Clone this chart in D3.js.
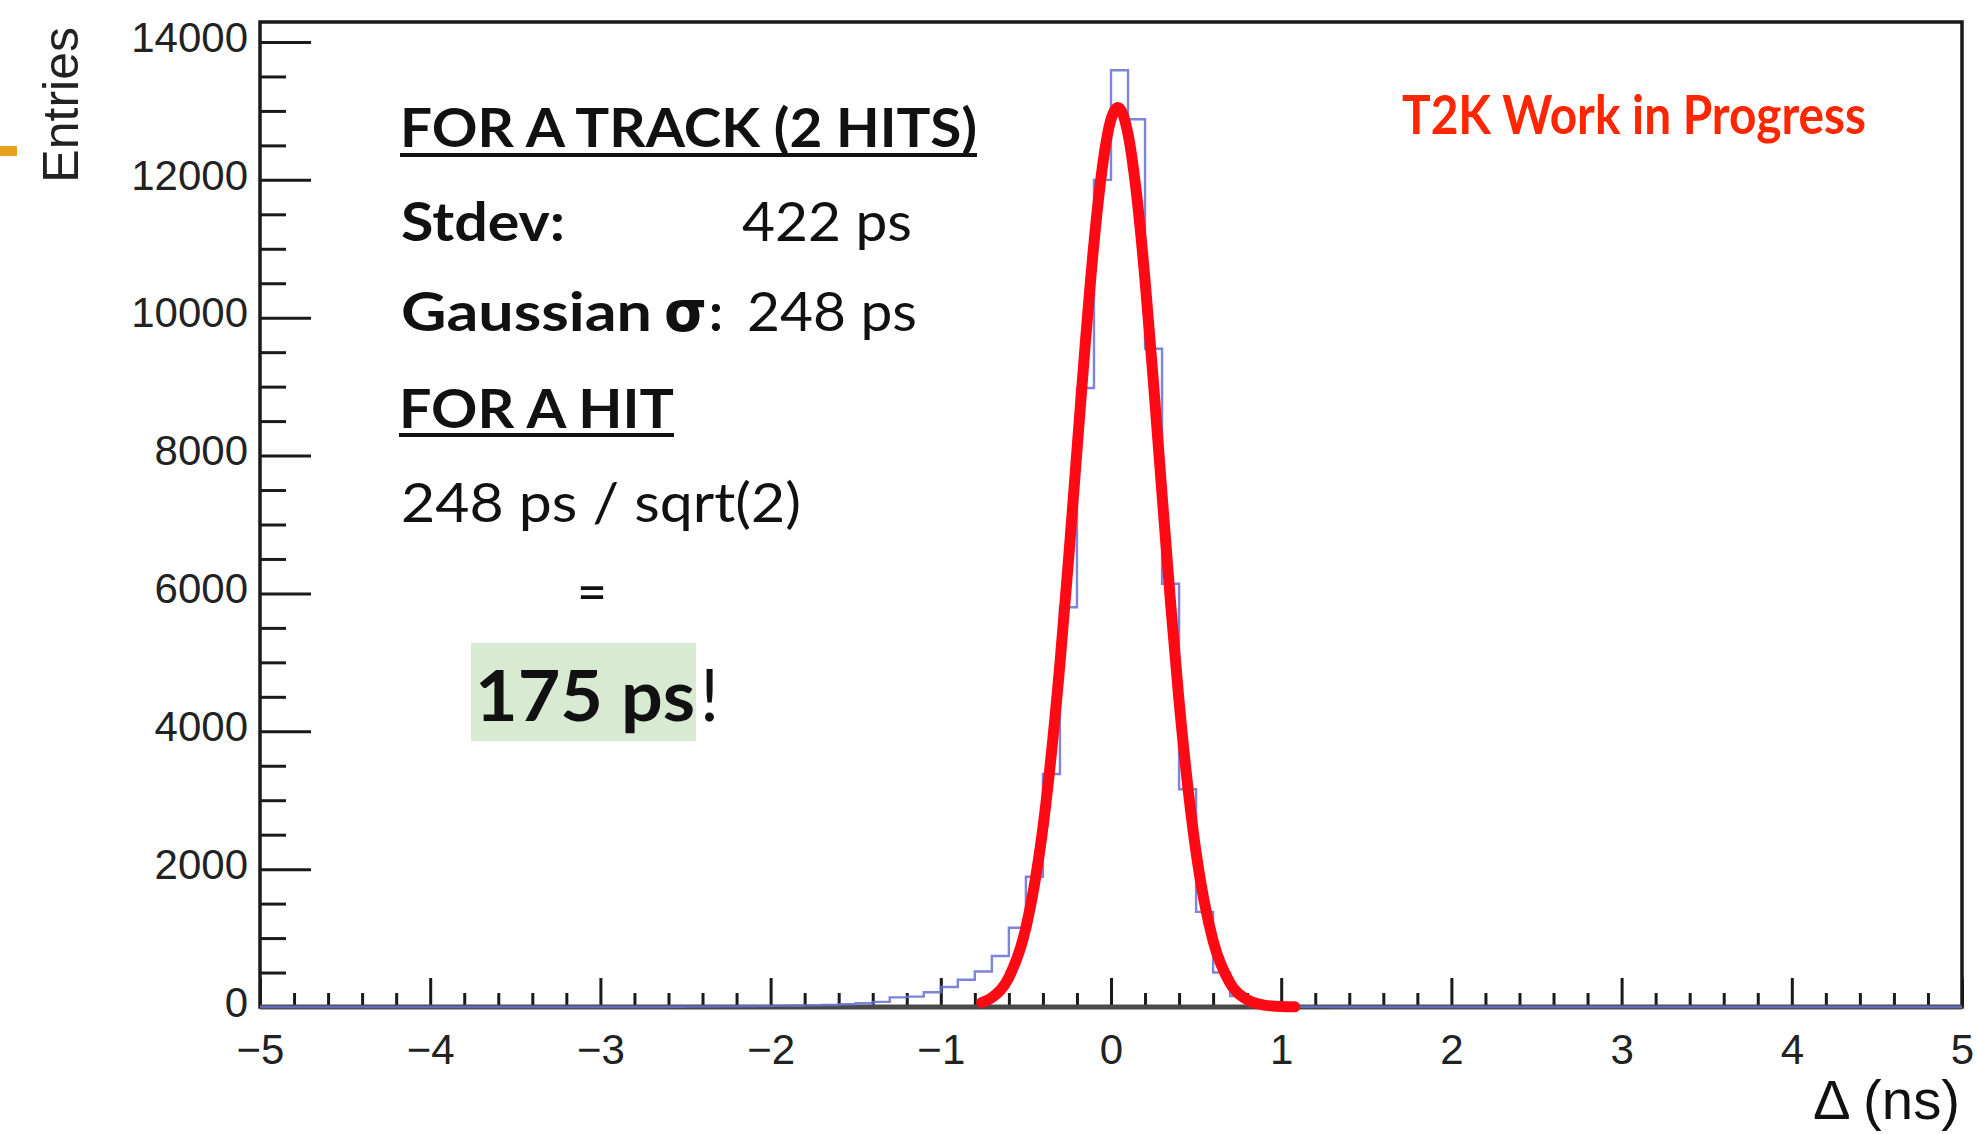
<!DOCTYPE html>
<html>
<head>
<meta charset="utf-8">
<script src="https://cdn.jsdelivr.net/npm/d3@7"></script>
<style>
  html, body { margin: 0; padding: 0; background: #fff; }
  svg { display: block; }
</style>
</head>
<body>
<div class="chart"></div>
<script>
// time difference between the two hits, 0.1 ns bins
const binWidth = 0.1;
const firstBin = -2.6;
const binCounts = [
  3, 5, 7, 9, 11, 13, 16, 19, 23, 28,
  40, 55, 75, 140, 150, 215, 290, 395, 515, 740,
  1150, 1890, 3380, 5800, 8980, 12000,
  13590, 12880, 9550, 6140, 3160, 1380, 500, 160, 50, 15, 6, 3, 2, 1
];

// red gaussian fit
const fitX = [-0.76, -0.7, -0.6, -0.5, -0.4, -0.3, -0.25, -0.2, -0.15, -0.1, -0.05, 0, 0.04,
  0.1, 0.15, 0.2, 0.25, 0.3, 0.35, 0.4, 0.5, 0.6, 0.7, 0.8, 0.9, 1.0, 1.08];
const fitY = [63, 137, 431, 1150, 2601, 4981, 6475, 8075, 9657, 11086, 12198, 12878, 13050,
  12665, 11797, 10545, 9040, 7432, 5861, 4434, 2238, 958, 346, 106, 28, 6, 2];

const xTicks = [-5, -4, -3, -2, -1, 0, 1, 2, 3, 4, 5];
const yTicks = [0, 2000, 4000, 6000, 8000, 10000, 12000, 14000];
const xDomain = [-5, 5];
const yDomain = [0, 14290];

const W = 1977, H = 1134;
const frame = { left: 260, right: 1962, top: 22, bottom: 1007 };

const svg = d3.select(".chart")
  .append("svg")
  .attr("width", W)
  .attr("height", H)
  .attr("viewBox", [0, 0, W, H]);

const x = d3.scaleLinear().domain(xDomain).range([frame.left, frame.right]);
const y = d3.scaleLinear().domain(yDomain).range([frame.bottom, frame.top]);

const axisFont = "'Liberation Sans', Arial, Helvetica, sans-serif";
const noteFont = "Lato, 'Open Sans', sans-serif";
const ink = "#1a1a1a";

// small orange mark on the left border (slide decoration)
svg.append("rect").attr("x", 0).attr("y", 146).attr("width", 17).attr("height", 10).attr("fill", "#e9a21f");

// minor ticks
const yMinor = d3.range(500, yDomain[1], 500).filter((v) => v % 2000 !== 0);
const xMinor = d3.range(-50, 51, 2).map((v) => v / 10).filter((v) => !Number.isInteger(v));

function styleAxis(g) {
  g.select(".domain").remove();
  g.selectAll("line").attr("stroke", ink).attr("stroke-width", 3);
  g.attr("font-family", axisFont).attr("font-size", 42);
  g.selectAll("text").attr("fill", "#222");
}

svg.append("g")
  .attr("transform", `translate(${frame.left},0)`)
  .call(d3.axisLeft(y).tickValues(yMinor).tickSize(-26).tickFormat(""))
  .call(styleAxis);

svg.append("g")
  .attr("transform", `translate(${frame.left},0)`)
  .call(d3.axisLeft(y).tickValues(yTicks).tickSize(-51).tickPadding(12).tickFormat(d3.format("d")))
  .call(styleAxis)
  .call((g) => g.selectAll("text").attr("dy", "0.22em"));

svg.append("g")
  .attr("transform", `translate(0,${frame.bottom})`)
  .call(d3.axisBottom(x).tickValues(xMinor).tickSize(-14).tickFormat(""))
  .call(styleAxis);

svg.append("g")
  .attr("transform", `translate(0,${frame.bottom})`)
  .call(d3.axisBottom(x).tickValues(xTicks).tickSize(-29).tickPadding(27).tickFormat(d3.format("d")))
  .call(styleAxis);

// frame
svg.append("rect")
  .attr("x", frame.left).attr("y", frame.top)
  .attr("width", frame.right - frame.left).attr("height", frame.bottom - frame.top)
  .attr("fill", "none").attr("stroke", ink).attr("stroke-width", 3.5);
svg.append("line")
  .attr("x1", frame.left).attr("x2", frame.right)
  .attr("y1", frame.bottom).attr("y2", frame.bottom)
  .attr("stroke", "#4a4a4a").attr("stroke-width", 5);

// axis titles
svg.append("text")
  .attr("transform", "translate(78,27) rotate(-90)")
  .attr("text-anchor", "end")
  .attr("font-family", axisFont).attr("font-size", 50).attr("fill", "#222")
  .text("Entries");

svg.append("text")
  .attr("x", 1960).attr("y", 1119)
  .attr("text-anchor", "end")
  .attr("font-family", axisFont).attr("font-size", 56).attr("fill", "#111")
  .attr("textLength", 147).attr("lengthAdjust", "spacingAndGlyphs")
  .text("Δ (ns)");

// histogram outline
const bins = binCounts.map((n, i) => {
  const x0 = +(firstBin + i * binWidth).toFixed(2);
  return { x0, x1: +(x0 + binWidth).toFixed(2), n };
});
const histPts = [[xDomain[0], 0], [bins[0].x0, 0]];
bins.forEach((b) => { histPts.push([b.x0, b.n], [b.x1, b.n]); });
histPts.push([bins[bins.length - 1].x1, 0], [xDomain[1], 0]);

svg.append("path")
  .datum(histPts)
  .attr("fill", "none")
  .attr("stroke", "#6570d2")
  .attr("stroke-width", 2.4)
  .attr("stroke-opacity", 0.85)
  .attr("d", d3.line().x((d) => x(d[0])).y((d) => y(d[1])));

// fit curve
svg.append("path")
  .datum(fitX.map((v, i) => [v, fitY[i]]))
  .attr("fill", "none")
  .attr("stroke", "#ff0a14")
  .attr("stroke-width", 11)
  .attr("stroke-linecap", "round")
  .attr("stroke-linejoin", "round")
  .attr("d", d3.line().x((d) => x(d[0])).y((d) => y(d[1])).curve(d3.curveMonotoneX));

// annotation box
function note(str, x0, base, size, weight, len, opts = {}) {
  const t = svg.append("text")
    .attr("x", x0).attr("y", base)
    .attr("font-family", opts.font || noteFont)
    .attr("font-size", size)
    .attr("font-weight", weight)
    .attr("fill", opts.color || "#111")
    .text(str);
  if (len) t.attr("textLength", len).attr("lengthAdjust", "spacingAndGlyphs");
  return t;
}
function underline(x0, yy, w) {
  svg.append("rect").attr("x", x0).attr("y", yy).attr("width", w).attr("height", 4).attr("fill", "#111");
}

note("FOR A TRACK (2 HITS)", 400, 147, 54, 700, 577);
underline(400, 153, 577);
note("Stdev:", 401, 241, 54, 700, 164);
note("422 ps", 742, 241, 54, 400, 170);
note("Gaussian", 401, 331, 54, 700, 251);
note("σ", 664, 331, 56, 700, 43, { font: "'DejaVu Sans', sans-serif" });
note(":", 709, 331, 54, 700, null);
note("248 ps", 747, 331, 54, 400, 170);
note("FOR A HIT", 399, 428, 54, 700, 275);
underline(399, 433, 275);
note("248 ps / sqrt(2)", 401, 522, 54, 400, 400);
note("=", 577, 611, 54, 400, 30);

svg.append("rect").attr("x", 471).attr("y", 643).attr("width", 225).attr("height", 98).attr("fill", "#d9ead3");
note("175 ps", 475, 721, 71, 700, 220);
note("!", 700, 721, 71, 400, null);

note("T2K Work in Progress", 1402, 134, 53, 700, 464, { color: "#ff2600" });
</script>
</body>
</html>
